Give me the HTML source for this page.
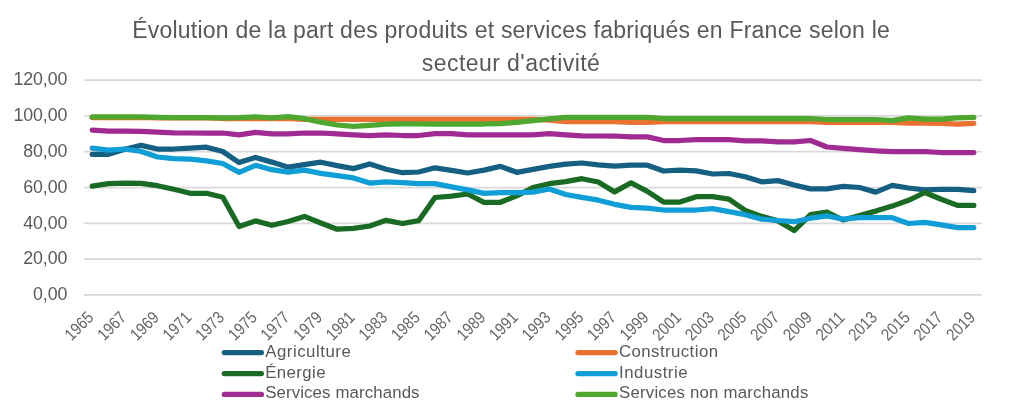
<!DOCTYPE html>
<html lang="fr"><head><meta charset="utf-8"><title>Évolution de la part des produits et services fabriqués en France</title>
<style>
html,body{margin:0;padding:0;background:#fff}
body{width:1024px;height:406px;overflow:hidden}
svg{display:block}
text{font-family:"Liberation Sans",sans-serif;fill:#595959}
.ln{fill:none;stroke-width:5.25;stroke-linecap:round;stroke-linejoin:round}
.x{fill:#676767}
.g{stroke:#D9D9D9;stroke-width:1.75}
</style></head><body>
<svg width="1024" height="406" viewBox="0 0 1024 406">
<rect width="1024" height="406" fill="#fff"/>
<text x="511.0" y="38.0" font-size="23" text-anchor="middle" textLength="757.6" lengthAdjust="spacing">Évolution de la part des produits et services fabriqués en France selon le</text>
<text x="510.8" y="70.9" font-size="23" text-anchor="middle" textLength="178" lengthAdjust="spacing">secteur d'activité</text>
<line class="g" x1="84" x2="982" y1="80.1" y2="80.1"/>
<line class="g" x1="84" x2="982" y1="115.9" y2="115.9"/>
<line class="g" x1="84" x2="982" y1="151.7" y2="151.7"/>
<line class="g" x1="84" x2="982" y1="187.5" y2="187.5"/>
<line class="g" x1="84" x2="982" y1="223.3" y2="223.3"/>
<line class="g" x1="84" x2="982" y1="259.1" y2="259.1"/>
<line class="g" x1="84" x2="982" y1="294.9" y2="294.9"/>
<text x="67.4" y="85.3" font-size="17.8" text-anchor="end" textLength="54" lengthAdjust="spacing">120,00</text>
<text x="67.4" y="121.1" font-size="17.8" text-anchor="end" textLength="54" lengthAdjust="spacing">100,00</text>
<text x="67.4" y="156.9" font-size="17.8" text-anchor="end" textLength="44.2" lengthAdjust="spacing">80,00</text>
<text x="67.4" y="192.7" font-size="17.8" text-anchor="end" textLength="44.2" lengthAdjust="spacing">60,00</text>
<text x="67.4" y="228.5" font-size="17.8" text-anchor="end" textLength="44.2" lengthAdjust="spacing">40,00</text>
<text x="67.4" y="264.3" font-size="17.8" text-anchor="end" textLength="44.2" lengthAdjust="spacing">20,00</text>
<text x="67.4" y="300.1" font-size="17.8" text-anchor="end" textLength="34.4" lengthAdjust="spacing">0,00</text>
<polyline class="ln" stroke="#156082" points="92.2,154.3 108.5,154.3 124.9,149.3 141.2,145.4 157.5,149.0 173.8,149.0 190.2,148.1 206.5,147.2 222.8,151.5 239.1,162.6 255.5,157.5 271.8,162.1 288.1,167.2 304.4,164.6 320.8,162.2 337.1,165.6 353.4,168.6 369.7,164.0 386.1,169.2 402.4,172.7 418.7,172.0 435.0,167.8 451.4,170.3 467.7,173.0 484.0,170.1 500.4,166.4 516.7,172.3 533.0,169.3 549.3,166.4 565.7,164.2 582.0,163.0 598.3,164.8 614.6,166.2 631.0,165.2 647.3,165.2 663.6,171.0 679.9,170.1 696.3,170.8 712.6,174.0 728.9,173.5 745.2,176.8 761.6,181.8 777.9,180.6 794.2,185.0 810.5,188.9 826.9,188.9 843.2,186.3 859.5,187.5 875.8,192.1 892.2,185.4 908.5,188.0 924.8,189.8 941.2,189.3 957.5,189.3 973.8,190.7"/>
<polyline class="ln" stroke="#E97132" points="92.2,117.5 108.5,117.5 124.9,117.5 141.2,117.5 157.5,117.9 173.8,117.9 190.2,117.9 206.5,117.9 222.8,118.5 239.1,118.5 255.5,118.5 271.8,118.5 288.1,118.5 304.4,119.4 320.8,119.4 337.1,119.4 353.4,119.4 369.7,119.4 386.1,119.4 402.4,119.4 418.7,119.4 435.0,119.4 451.4,119.4 467.7,119.4 484.0,119.4 500.4,119.4 516.7,119.4 533.0,119.4 549.3,120.2 565.7,121.7 582.0,121.7 598.3,121.7 614.6,121.7 631.0,122.3 647.3,122.3 663.6,121.7 679.9,121.7 696.3,121.7 712.6,121.7 728.9,121.7 745.2,121.7 761.6,121.7 777.9,121.7 794.2,121.7 810.5,121.7 826.9,122.3 843.2,122.3 859.5,122.3 875.8,122.3 892.2,122.4 908.5,123.1 924.8,123.1 941.2,123.3 957.5,124.2 973.8,123.3"/>
<polyline class="ln" stroke="#196B24" points="92.2,186.1 108.5,183.6 124.9,183.2 141.2,183.4 157.5,185.7 173.8,189.3 190.2,193.3 206.5,193.3 222.8,197.2 239.1,226.5 255.5,220.9 271.8,225.3 288.1,221.5 304.4,216.4 320.8,223.0 337.1,229.2 353.4,228.3 369.7,226.0 386.1,220.3 402.4,223.5 418.7,220.7 435.0,197.5 451.4,196.1 467.7,194.0 484.0,202.3 500.4,202.3 516.7,195.8 533.0,187.6 549.3,183.7 565.7,181.6 582.0,178.7 598.3,182.0 614.6,191.9 631.0,182.8 647.3,191.4 663.6,202.0 679.9,202.0 696.3,196.7 712.6,196.7 728.9,199.2 745.2,210.4 761.6,216.4 777.9,220.9 794.2,230.6 810.5,214.7 826.9,212.0 843.2,220.0 859.5,215.5 875.8,211.1 892.2,206.1 908.5,200.3 924.8,192.5 941.2,199.2 957.5,205.4 973.8,205.4"/>
<polyline class="ln" stroke="#0F9ED5" points="92.2,148.1 108.5,150.2 124.9,149.0 141.2,151.5 157.5,157.0 173.8,158.7 190.2,159.1 206.5,160.9 222.8,163.5 239.1,172.4 255.5,165.3 271.8,169.7 288.1,172.1 304.4,170.2 320.8,173.3 337.1,175.7 353.4,177.9 369.7,183.1 386.1,181.8 402.4,182.7 418.7,183.6 435.0,183.7 451.4,186.9 467.7,189.9 484.0,193.4 500.4,192.6 516.7,192.6 533.0,192.2 549.3,189.0 565.7,194.5 582.0,197.3 598.3,200.2 614.6,204.3 631.0,207.3 647.3,208.2 663.6,210.0 679.9,210.0 696.3,210.0 712.6,208.7 728.9,211.6 745.2,214.7 761.6,219.1 777.9,220.5 794.2,221.7 810.5,218.2 826.9,215.9 843.2,219.1 859.5,217.7 875.8,217.7 892.2,217.7 908.5,223.5 924.8,222.3 941.2,224.9 957.5,227.6 973.8,227.6"/>
<polyline class="ln" stroke="#A02B93" points="92.2,130.2 108.5,131.1 124.9,131.2 141.2,131.4 157.5,132.1 173.8,132.8 190.2,133.0 206.5,133.0 222.8,133.0 239.1,134.8 255.5,132.3 271.8,133.9 288.1,133.9 304.4,133.0 320.8,133.0 337.1,133.9 353.4,134.8 369.7,135.7 386.1,134.8 402.4,135.5 418.7,135.5 435.0,133.7 451.4,133.7 467.7,134.8 484.0,134.8 500.4,134.8 516.7,134.8 533.0,134.8 549.3,133.7 565.7,134.8 582.0,135.9 598.3,136.0 614.6,136.0 631.0,136.9 647.3,136.9 663.6,140.5 679.9,140.5 696.3,139.6 712.6,139.6 728.9,139.6 745.2,140.8 761.6,140.8 777.9,141.9 794.2,141.9 810.5,140.5 826.9,147.0 843.2,148.4 859.5,149.7 875.8,150.8 892.2,151.6 908.5,151.6 924.8,151.6 941.2,152.5 957.5,152.5 973.8,152.5"/>
<polyline class="ln" stroke="#4EA72E" points="92.2,116.9 108.5,116.9 124.9,116.9 141.2,116.9 157.5,117.4 173.8,117.6 190.2,117.6 206.5,117.6 222.8,117.8 239.1,117.6 255.5,116.9 271.8,117.8 288.1,116.7 304.4,118.7 320.8,122.2 337.1,125.0 353.4,126.3 369.7,125.4 386.1,124.2 402.4,123.8 418.7,124.0 435.0,124.0 451.4,124.0 467.7,124.0 484.0,124.0 500.4,123.6 516.7,122.4 533.0,120.6 549.3,118.8 565.7,117.4 582.0,117.4 598.3,117.4 614.6,117.4 631.0,117.4 647.3,117.4 663.6,118.5 679.9,118.5 696.3,118.5 712.6,118.5 728.9,118.5 745.2,118.5 761.6,118.5 777.9,118.5 794.2,118.5 810.5,118.5 826.9,119.5 843.2,119.5 859.5,119.5 875.8,119.5 892.2,120.6 908.5,117.8 924.8,119.2 941.2,119.2 957.5,117.8 973.8,117.4"/>
<text class="x" transform="translate(94.6 318.6) rotate(-45)" font-size="17" text-anchor="end" textLength="32.5" lengthAdjust="spacingAndGlyphs">1965</text>
<text class="x" transform="translate(127.3 318.6) rotate(-45)" font-size="17" text-anchor="end" textLength="32.5" lengthAdjust="spacingAndGlyphs">1967</text>
<text class="x" transform="translate(159.9 318.6) rotate(-45)" font-size="17" text-anchor="end" textLength="32.5" lengthAdjust="spacingAndGlyphs">1969</text>
<text class="x" transform="translate(192.6 318.6) rotate(-45)" font-size="17" text-anchor="end" textLength="32.5" lengthAdjust="spacingAndGlyphs">1971</text>
<text class="x" transform="translate(225.2 318.6) rotate(-45)" font-size="17" text-anchor="end" textLength="32.5" lengthAdjust="spacingAndGlyphs">1973</text>
<text class="x" transform="translate(257.9 318.6) rotate(-45)" font-size="17" text-anchor="end" textLength="32.5" lengthAdjust="spacingAndGlyphs">1975</text>
<text class="x" transform="translate(290.5 318.6) rotate(-45)" font-size="17" text-anchor="end" textLength="32.5" lengthAdjust="spacingAndGlyphs">1977</text>
<text class="x" transform="translate(323.2 318.6) rotate(-45)" font-size="17" text-anchor="end" textLength="32.5" lengthAdjust="spacingAndGlyphs">1979</text>
<text class="x" transform="translate(355.8 318.6) rotate(-45)" font-size="17" text-anchor="end" textLength="32.5" lengthAdjust="spacingAndGlyphs">1981</text>
<text class="x" transform="translate(388.5 318.6) rotate(-45)" font-size="17" text-anchor="end" textLength="32.5" lengthAdjust="spacingAndGlyphs">1983</text>
<text class="x" transform="translate(421.1 318.6) rotate(-45)" font-size="17" text-anchor="end" textLength="32.5" lengthAdjust="spacingAndGlyphs">1985</text>
<text class="x" transform="translate(453.8 318.6) rotate(-45)" font-size="17" text-anchor="end" textLength="32.5" lengthAdjust="spacingAndGlyphs">1987</text>
<text class="x" transform="translate(486.4 318.6) rotate(-45)" font-size="17" text-anchor="end" textLength="32.5" lengthAdjust="spacingAndGlyphs">1989</text>
<text class="x" transform="translate(519.1 318.6) rotate(-45)" font-size="17" text-anchor="end" textLength="32.5" lengthAdjust="spacingAndGlyphs">1991</text>
<text class="x" transform="translate(551.7 318.6) rotate(-45)" font-size="17" text-anchor="end" textLength="32.5" lengthAdjust="spacingAndGlyphs">1993</text>
<text class="x" transform="translate(584.4 318.6) rotate(-45)" font-size="17" text-anchor="end" textLength="32.5" lengthAdjust="spacingAndGlyphs">1995</text>
<text class="x" transform="translate(617.0 318.6) rotate(-45)" font-size="17" text-anchor="end" textLength="32.5" lengthAdjust="spacingAndGlyphs">1997</text>
<text class="x" transform="translate(649.7 318.6) rotate(-45)" font-size="17" text-anchor="end" textLength="32.5" lengthAdjust="spacingAndGlyphs">1999</text>
<text class="x" transform="translate(682.3 318.6) rotate(-45)" font-size="17" text-anchor="end" textLength="32.5" lengthAdjust="spacingAndGlyphs">2001</text>
<text class="x" transform="translate(715.0 318.6) rotate(-45)" font-size="17" text-anchor="end" textLength="32.5" lengthAdjust="spacingAndGlyphs">2003</text>
<text class="x" transform="translate(747.6 318.6) rotate(-45)" font-size="17" text-anchor="end" textLength="32.5" lengthAdjust="spacingAndGlyphs">2005</text>
<text class="x" transform="translate(780.3 318.6) rotate(-45)" font-size="17" text-anchor="end" textLength="32.5" lengthAdjust="spacingAndGlyphs">2007</text>
<text class="x" transform="translate(812.9 318.6) rotate(-45)" font-size="17" text-anchor="end" textLength="32.5" lengthAdjust="spacingAndGlyphs">2009</text>
<text class="x" transform="translate(845.6 318.6) rotate(-45)" font-size="17" text-anchor="end" textLength="32.5" lengthAdjust="spacingAndGlyphs">2011</text>
<text class="x" transform="translate(878.2 318.6) rotate(-45)" font-size="17" text-anchor="end" textLength="32.5" lengthAdjust="spacingAndGlyphs">2013</text>
<text class="x" transform="translate(910.9 318.6) rotate(-45)" font-size="17" text-anchor="end" textLength="32.5" lengthAdjust="spacingAndGlyphs">2015</text>
<text class="x" transform="translate(943.6 318.6) rotate(-45)" font-size="17" text-anchor="end" textLength="32.5" lengthAdjust="spacingAndGlyphs">2017</text>
<text class="x" transform="translate(976.2 318.6) rotate(-45)" font-size="17" text-anchor="end" textLength="32.5" lengthAdjust="spacingAndGlyphs">2019</text>
<line class="ln" stroke="#156082" x1="224.3" x2="261.4" y1="352.6" y2="352.6"/>
<text x="265.2" y="356.6" font-size="16.8" textLength="85.6" lengthAdjust="spacing">Agriculture</text>
<line class="ln" stroke="#E97132" x1="578.0" x2="615.1" y1="352.6" y2="352.6"/>
<text x="619.0" y="356.6" font-size="16.8" textLength="99" lengthAdjust="spacing">Construction</text>
<line class="ln" stroke="#196B24" x1="224.3" x2="261.4" y1="373.5" y2="373.5"/>
<text x="265.2" y="377.5" font-size="16.8" textLength="60.4" lengthAdjust="spacing">Énergie</text>
<line class="ln" stroke="#0F9ED5" x1="578.0" x2="615.1" y1="373.5" y2="373.5"/>
<text x="619.0" y="377.5" font-size="16.8" textLength="68.5" lengthAdjust="spacing">Industrie</text>
<line class="ln" stroke="#A02B93" x1="224.3" x2="261.4" y1="394.4" y2="394.4"/>
<text x="265.2" y="398.4" font-size="16.8" textLength="154.3" lengthAdjust="spacing">Services marchands</text>
<line class="ln" stroke="#4EA72E" x1="578.0" x2="615.1" y1="394.4" y2="394.4"/>
<text x="619.0" y="398.4" font-size="16.8" textLength="189.3" lengthAdjust="spacing">Services non marchands</text>
</svg>
</body></html>
